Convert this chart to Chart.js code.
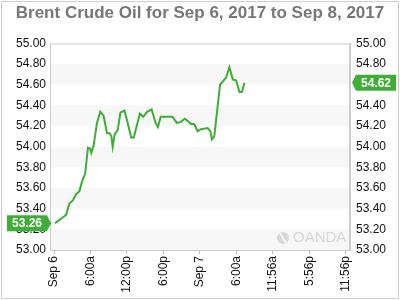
<!DOCTYPE html>
<html>
<head>
<meta charset="utf-8">
<script src="https://cdn.jsdelivr.net/npm/chart.js@4.4.1/dist/chart.umd.min.js"></script>
<style>
  body { margin: 0; background: #fff; }
  #wrap { position: relative; width: 400px; height: 300px; }
  #frame { position: absolute; left: 1px; top: 1px; width: 398px; height: 298px; box-sizing: border-box; border: 1px solid #cfcfcf; pointer-events: none; }
</style>
</head>
<body>
<div id="wrap">
  <canvas id="oilChart" width="400" height="300"></canvas>
  <div id="frame"></div>
</div>
<script>
// hours since Sep 6 00:00
const hours = [0.17, 1.54, 1.99, 2.53, 3.10, 3.64, 4.19, 4.59, 5.13, 5.58, 5.96, 6.13, 6.51, 7.07, 7.62,
  8.16, 8.72, 9.16, 9.44, 9.65, 9.98, 10.48, 10.93, 11.59, 12.04, 12.70, 13.13, 14.12, 14.69, 15.35,
  16.06, 16.72, 17.10, 17.55, 19.49, 20.20, 20.86, 21.52, 21.97, 22.52, 23.06, 23.63, 24.17, 25.28,
  25.71, 25.99, 26.37, 27.32, 27.77, 28.31, 28.86, 29.42, 29.97, 30.51, 30.91, 31.34];
const prices = [53.26, 53.32, 53.34, 53.45, 53.48, 53.54, 53.57, 53.66, 53.74, 53.99, 53.98, 53.94, 54.01, 54.23, 54.34,
  54.30, 54.13, 54.13, 54.10, 54.00, 54.12, 54.16, 54.33, 54.35, 54.25, 54.09, 54.09, 54.32, 54.29, 54.34,
  54.36, 54.23, 54.19, 54.29, 54.29, 54.23, 54.24, 54.27, 54.25, 54.22, 54.22, 54.15, 54.17, 54.18,
  54.15, 54.07, 54.10, 54.60, 54.63, 54.67, 54.77, 54.65, 54.64, 54.53, 54.53, 54.62];
const timeLabels = ["Sep 6", "6:00a", "12:00p", "6:00p", "Sep 7", "6:00a", "11:56a", "5:56p", "11:56p"];
const priceTicks = [53.0, 53.2, 53.4, 53.6, 53.8, 54.0, 54.2, 54.4, 54.6, 54.8, 55.0];

const green = "#3eae36";
const font = "'Liberation Sans', Arial, sans-serif";

// alternating bands, box border and watermark
const backdrop = {
  id: "backdrop",
  beforeDatasetsDraw(chart) {
    const { ctx, chartArea: a } = chart;
    const y = chart.scales.y;
    ctx.save();
    ctx.fillStyle = "#f7f7f7";
    for (let i = 0; i < priceTicks.length - 1; i += 2) {
      const top = y.getPixelForValue(priceTicks[i + 1]);
      const bot = y.getPixelForValue(priceTicks[i]);
      ctx.fillRect(a.left, top, a.right - a.left, bot - top);
    }
    // watermark
    ctx.fillStyle = "#d8d8d8";
    ctx.font = "15px " + font;
    ctx.textAlign = "left";
    ctx.textBaseline = "middle";
    ctx.fillText("OANDA", a.left + 243, a.bottom - 12);
    ctx.beginPath();
    ctx.arc(a.left + 233, a.bottom - 12, 6, 0, Math.PI * 2);
    ctx.fill();
    ctx.strokeStyle = "#f7f7f7";
    ctx.lineWidth = 2;
    ctx.beginPath();
    ctx.moveTo(a.left + 230, a.bottom - 17);
    ctx.lineTo(a.left + 236, a.bottom - 7);
    ctx.stroke();
    ctx.strokeStyle = "#cccccc";
    ctx.lineWidth = 1;
    ctx.strokeRect(a.left + 0.5, a.top + 0.5, a.right - a.left - 1, a.bottom - a.top);
    ctx.restore();
  }
};

// first/last price badges
function badge(ctx, x, y, text, side) {
  const w = 40, h = 16, tip = 4;
  ctx.beginPath();
  if (side === "left") {
    ctx.moveTo(x - tip - w, y - h / 2);
    ctx.lineTo(x - tip, y - h / 2);
    ctx.lineTo(x, y);
    ctx.lineTo(x - tip, y + h / 2);
    ctx.lineTo(x - tip - w, y + h / 2);
  } else {
    ctx.moveTo(x + tip + w, y - h / 2);
    ctx.lineTo(x + tip, y - h / 2);
    ctx.lineTo(x, y);
    ctx.lineTo(x + tip, y + h / 2);
    ctx.lineTo(x + tip + w, y + h / 2);
  }
  ctx.closePath();
  ctx.fillStyle = green;
  ctx.fill();
  ctx.fillStyle = "#fff";
  ctx.font = "bold 12px " + font;
  ctx.textAlign = "center";
  ctx.textBaseline = "middle";
  const cx = side === "left" ? x - tip - w / 2 : x + tip + w / 2;
  ctx.fillText(text, cx, y + 1);
}

const badges = {
  id: "badges",
  afterDraw(chart) {
    const { ctx, chartArea: a } = chart;
    const y = chart.scales.y;
    ctx.save();
    badge(ctx, a.left + 1, y.getPixelForValue(prices[0]), prices[0].toFixed(2), "left");
    const last = prices[prices.length - 1];
    badge(ctx, a.right + 2, y.getPixelForValue(last), last.toFixed(2), "right");
    ctx.restore();
  }
};

const tickFont = { family: font, size: 12 };

new Chart(document.getElementById("oilChart"), {
  type: "line",
  data: {
    datasets: [{
      data: hours.map((h, i) => ({ x: h, y: prices[i] })),
      borderColor: green,
      borderWidth: 2,
      pointRadius: 0,
      tension: 0,
      fill: false
    }]
  },
  options: {
    responsive: false,
    animation: false,
    layout: { padding: 0 },
    plugins: {
      legend: { display: false },
      tooltip: { enabled: false },
      title: {
        display: true,
        text: "Brent Crude Oil for Sep 6, 2017 to Sep 8, 2017",
        color: "#777",
        font: { family: font, size: 17, weight: "bold" },
        padding: { top: 3, bottom: 20 }
      }
    },
    scales: {
      x: {
        type: "linear",
        min: -0.66,
        max: 48.7,
        afterBuildTicks(scale) {
          scale.ticks = timeLabels.map((l, i) => ({ value: i * 6 }));
        },
        afterFit(scale) { scale.height = 50; },
        grid: { drawOnChartArea: false, tickLength: 4, color: "#bbb" },
        border: { display: true, color: "#ccc" },
        ticks: {
          autoSkip: false,
          minRotation: 90,
          maxRotation: 90,
          color: "#111",
          font: tickFont,
          padding: 2,
          callback: (v, i) => timeLabels[i]
        }
      },
      y: {
        position: "left",
        min: 53,
        max: 55,
        afterBuildTicks(scale) {
          scale.ticks = priceTicks.map(v => ({ value: v }));
        },
        afterFit(scale) { scale.width = 50; },
        grid: { display: false, drawTicks: false },
        border: { display: true, color: "#ccc" },
        ticks: { color: "#111", font: tickFont, padding: 4, callback: v => v.toFixed(2) }
      },
      y2: {
        position: "right",
        min: 53,
        max: 55,
        afterBuildTicks(scale) {
          scale.ticks = priceTicks.map(v => ({ value: v }));
        },
        afterFit(scale) { scale.width = 50; },
        grid: { display: false, drawTicks: false },
        border: { display: true, color: "#ccc" },
        ticks: { color: "#111", font: tickFont, padding: 6, callback: v => v.toFixed(2) }
      }
    }
  },
  plugins: [backdrop, badges]
});
</script>
</body>
</html>
